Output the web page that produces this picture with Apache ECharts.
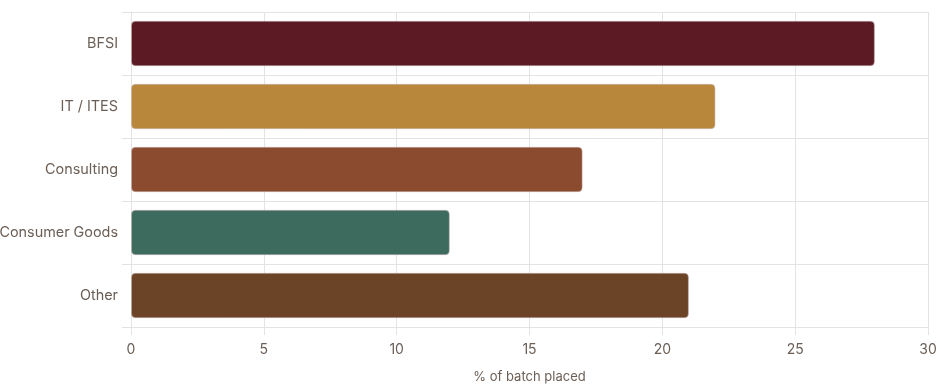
<!DOCTYPE html>
<html><head><meta charset="utf-8">
<script src="https://cdn.jsdelivr.net/npm/echarts@6/dist/echarts.min.js"></script>
<style>html,body{margin:0;padding:0;background:#fff}#c{width:940px;height:390px}</style>
</head><body><div id="c"></div>
<script>
const categories = ["BFSI", "IT / ITES", "Consulting", "Consumer Goods", "Other"];
const values = [28, 22, 17, 12, 21];
const colors = ["#5c1b24", "#b8873c", "#8b4b2f", "#3d6c5e", "#6b4428"];
const xTicks = [0, 5, 10, 15, 20, 25, 30];

const chart = echarts.init(document.getElementById('c'));
const textColor = '#6b5e55';
const lineColor = '#e4e2e2';
chart.setOption({
  animation: false,
  textStyle: { fontFamily: 'Inter, "Noto Sans", sans-serif' },
  grid: { left: 131, right: 12, top: 12, bottom: 63, containLabel: false, outerBoundsMode: 'none' },
  xAxis: {
    type: 'value', min: xTicks[0], max: xTicks[xTicks.length - 1], interval: 5,
    name: '% of batch placed', nameLocation: 'middle', nameGap: 44,
    nameTextStyle: { color: textColor, fontSize: 13 },
    axisLabel: { color: textColor, fontSize: 14, margin: 16 },
    axisLine: { show: true, lineStyle: { color: lineColor } },
    axisTick: { show: true, length: 8, lineStyle: { color: lineColor } },
    splitLine: { show: true, lineStyle: { color: lineColor } }
  },
  yAxis: {
    type: 'category', data: categories, inverse: true,
    axisLabel: { color: textColor, fontSize: 14.4, margin: 13 },
    axisLine: { show: true, lineStyle: { color: lineColor } },
    axisTick: { show: true, length: 9, lineStyle: { color: lineColor } },
    splitLine: { show: true, lineStyle: { color: lineColor } }
  },
  series: [{
    type: 'bar',
    data: values.map((v, i) => ({ value: v, itemStyle: { color: colors[i] } })),
    barCategoryGap: '28%',
    itemStyle: { borderRadius: 4, borderColor: 'rgba(200,180,180,0.5)', borderWidth: 1 }
  }]
});
</script></body></html>
